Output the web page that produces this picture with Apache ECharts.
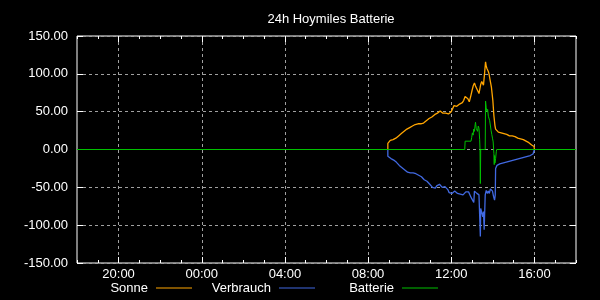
<!DOCTYPE html>
<html>
<head>
<meta charset="utf-8">
<script src="https://cdn.jsdelivr.net/npm/echarts@6/dist/echarts.min.js"></script>
<style>
html,body{margin:0;padding:0;background:#000;}
#c{width:600px;height:300px;}
</style>
</head>
<body>
<div id="c"></div>
<script>
// ---- data (times "HH:MM"; a leading "-" means previous day) ----
const titleText = '24h Hoymiles Batterie';
const seriesNames = ['Sonne', 'Verbrauch', 'Batterie'];
const xMajorHours = [-4, 0, 4, 8, 12, 16];
const yTicks = [-150, -100, -50, 0, 50, 100, 150];

const sonne = [
['08:57',0],['08:57',8],['09:00',10],['09:04',12],['09:08',13],['09:12',13],['09:16',14],['09:20',15],
['09:24',16],['09:28',18],['09:32',20],['09:36',21],['09:40',23],['09:44',24],['09:48',25],['09:52',27],
['09:56',28],['10:00',29],['10:04',31],['10:08',31],['10:12',32],['10:16',33],['10:20',32],['10:24',34],
['10:28',33],['10:32',34],['10:36',35],['10:40',35],['10:44',37],['10:48',38],['10:52',40],['10:56',41],
['11:00',41],['11:04',43],['11:08',45],['11:12',46],['11:16',47],['11:20',48],['11:24',47],['11:28',51],
['11:32',49],['11:36',48],['11:40',46],['11:44',48],['11:48',50],['11:52',47],['11:56',49],['12:00',50],
['12:04',52],['12:08',58],['12:12',59],['12:16',57],['12:20',58],['12:24',60],['12:28',61],['12:32',62],
['12:36',65],['12:40',70],['12:44',72],['12:48',67],['12:52',63],['12:56',70],['13:00',78],['13:04',85],
['13:07',88],['13:10',84],['13:14',80],['13:17',81],['13:20',74],['13:22',72],['13:25',86],['13:28',90],
['13:30',92],['13:33',85],['13:36',100],['13:39',116],['13:41',110],['13:43',107],['13:45',108],['13:47',103],
['13:49',100],['13:52',92],['13:56',82],['14:00',65],['14:03',45],['14:06',32],['14:08',27],['14:12',25],
['14:16',23],['14:20',22],['14:24',22],['14:28',21],['14:32',21],['14:36',20],['14:40',20],['14:44',19],
['14:48',18],['14:52',18],['14:56',18],['15:00',17],['15:04',17],['15:08',16],['15:12',15],['15:16',15],
['15:20',14],['15:24',14],['15:28',13],['15:32',12],['15:36',11],['15:40',10],['15:44',9],['15:48',7],
['15:52',6],['15:56',5],['15:59',4],['16:00',0]
];

const verbrauch = [
['08:57',0],['08:57',-9],['09:02',-11],['09:06',-12],['09:10',-13],['09:14',-14],['09:18',-15],['09:22',-17],
['09:26',-19],['09:30',-21],['09:34',-23],['09:38',-24],['09:42',-26],['09:46',-27],['09:50',-28],['09:54',-30],
['09:58',-31],['10:02',-31],['10:06',-32],['10:10',-31],['10:14',-33],['10:18',-32],['10:22',-33],['10:26',-34],
['10:30',-35],['10:34',-36],['10:38',-37],['10:42',-40],['10:46',-42],['10:50',-42],['10:54',-44],['10:58',-46],
['11:02',-47],['11:06',-50],['11:10',-48],['11:14',-51],['11:18',-48],['11:22',-47],['11:26',-46],['11:30',-48],
['11:34',-50],['11:38',-51],['11:42',-49],['11:46',-50],['11:50',-53],['11:54',-57],['11:58',-56],['12:02',-58],
['12:06',-57],['12:10',-55],['12:14',-56],['12:18',-58],['12:22',-57],['12:26',-59],['12:30',-57],['12:34',-60],
['12:38',-60],['12:42',-56],['12:46',-58],['12:50',-56],['12:54',-60],['12:58',-64],['13:02',-65],['13:05',-70],
['13:07',-55],['13:10',-54],['13:14',-58],['13:18',-56],['13:20',-60],['13:22',-62],['13:24',-115],['13:25',-78],
['13:27',-76],['13:29',-85],['13:31',-89],['13:33',-82],['13:35',-106],['13:36',-108],['13:38',-60],['13:41',-54],
['13:44',-58],['13:47',-55],['13:50',-58],['13:53',-52],['13:56',-50],['13:59',-55],['14:02',-62],['14:05',-67],
['14:07',-60],['14:08',-25],['14:12',-21],['14:20',-19],['14:28',-18],['14:36',-17],['14:44',-16],['14:52',-15],
['15:00',-14],['15:08',-13],['15:16',-12],['15:24',-11],['15:32',-10],['15:40',-9],['15:48',-8],['15:56',-6],
['16:00',-5],['16:00',0]
];

const batterie = [
['-18:00',0],['12:39',0],['12:40',11],['12:57',11],['12:59',16],['13:01',22],['13:03',19],['13:05',27],
['13:07',24],['13:09',33],['13:10',36],['13:12',28],['13:14',30],['13:16',24],['13:18',31],['13:20',28],
['13:22',13],['13:23',0],['13:24',-45],['13:25',0],['13:38',0],['13:39',64],['13:41',55],['13:43',50],
['13:45',53],['13:47',44],['13:49',46],['13:51',38],['13:53',36],['13:55',25],['13:57',20],['13:59',15],
['14:01',10],['14:03',-5],['14:04',-20],['14:05',-8],['14:06',-18],['14:08',-12],['14:10',-3],['14:11',0],
['18:00',0]
];

// ---- helpers ----
function toHours(t) {
  let prev = false;
  if (t[0] === '-') { prev = true; t = t.slice(1); }
  const p = t.split(':');
  let h = parseInt(p[0], 10) + parseInt(p[1], 10) / 60;
  if (prev) h -= 24;
  return h;
}
function conv(arr) { return arr.map(d => [toHours(d[0]), d[1]]); }
function hourLabel(v) {
  const h = ((Math.round(v) % 24) + 24) % 24;
  return (h < 10 ? '0' : '') + h + ':00';
}

const FONT = 'Liberation Sans, Arial, sans-serif';
const WHITE = '#ffffff';
const GRID_LINE = { type: [3, 3], color: '#a0a0a0', width: 1 };

const chart = echarts.init(document.getElementById('c'), null, { renderer: 'canvas' });

function xAx(pos, major, labels) {
  return {
    type: 'value', min: -6, max: 18, interval: 1, position: pos,
    axisLine: { show: false, onZero: false },
    axisTick: major
      ? { show: true, inside: true, length: 6, customValues: xMajorHours, lineStyle: { color: WHITE } }
      : { show: true, inside: true, length: 3, lineStyle: { color: WHITE } },
    axisLabel: labels
      ? { show: true, customValues: xMajorHours, formatter: hourLabel, color: WHITE, fontSize: 13, fontFamily: FONT, margin: 5 }
      : { show: false },
    splitLine: (major && labels) ? { show: true, lineStyle: GRID_LINE } : { show: false }
  };
}

const legendRight = [408, 285, 162];

chart.setOption({
  animation: false,
  backgroundColor: '#000000',
  title: {
    text: titleText, left: 326, top: 8, textAlign: 'center',
    textStyle: { color: WHITE, fontSize: 13, fontWeight: 'normal', fontFamily: FONT }
  },
  legend: seriesNames.map((n, i) => ({
    data: [n], right: legendRight[i], top: 281, padding: 0, align: 'right',
    icon: 'rect', itemWidth: 36, itemHeight: 1, selectedMode: false,
    textStyle: { color: WHITE, fontSize: 13, fontFamily: FONT, lineHeight: 14, padding: [0, 3, 0, 0] }
  })),
  grid: {
    left: 77, right: 24, top: 36, bottom: 37,
    show: true, borderColor: WHITE, borderWidth: 1, backgroundColor: 'transparent'
  },
  xAxis: [xAx('bottom', true, true), xAx('bottom', false, false), xAx('top', true, false), xAx('top', false, false)],
  yAxis: [
    {
      type: 'value', min: -150, max: 150, interval: 50, position: 'left',
      axisLine: { show: false, onZero: false },
      axisTick: { show: true, inside: true, length: 6, lineStyle: { color: WHITE } },
      axisLabel: { color: WHITE, fontSize: 13, fontFamily: FONT, margin: 9, formatter: v => v.toFixed(2) },
      splitLine: { show: true, lineStyle: GRID_LINE }
    },
    {
      type: 'value', min: -150, max: 150, interval: 50, position: 'right',
      axisLine: { show: false, onZero: false },
      axisTick: { show: true, inside: true, length: 6, lineStyle: { color: WHITE } },
      axisLabel: { show: false },
      splitLine: { show: false }
    }
  ],
  series: [
    { name: seriesNames[0], type: 'line', data: conv(sonne), showSymbol: false, symbol: 'none',
      lineStyle: { color: '#ffa500', width: 1.3 }, itemStyle: { color: '#ffa500' } },
    { name: seriesNames[1], type: 'line', data: conv(verbrauch), showSymbol: false, symbol: 'none',
      lineStyle: { color: '#4169e1', width: 1.3 }, itemStyle: { color: '#4169e1' } },
    { name: seriesNames[2], type: 'line', data: conv(batterie), showSymbol: false, symbol: 'none',
      lineStyle: { color: '#00c000', width: 1 }, itemStyle: { color: '#00c000' } }
  ]
});
</script>
</body>
</html>
